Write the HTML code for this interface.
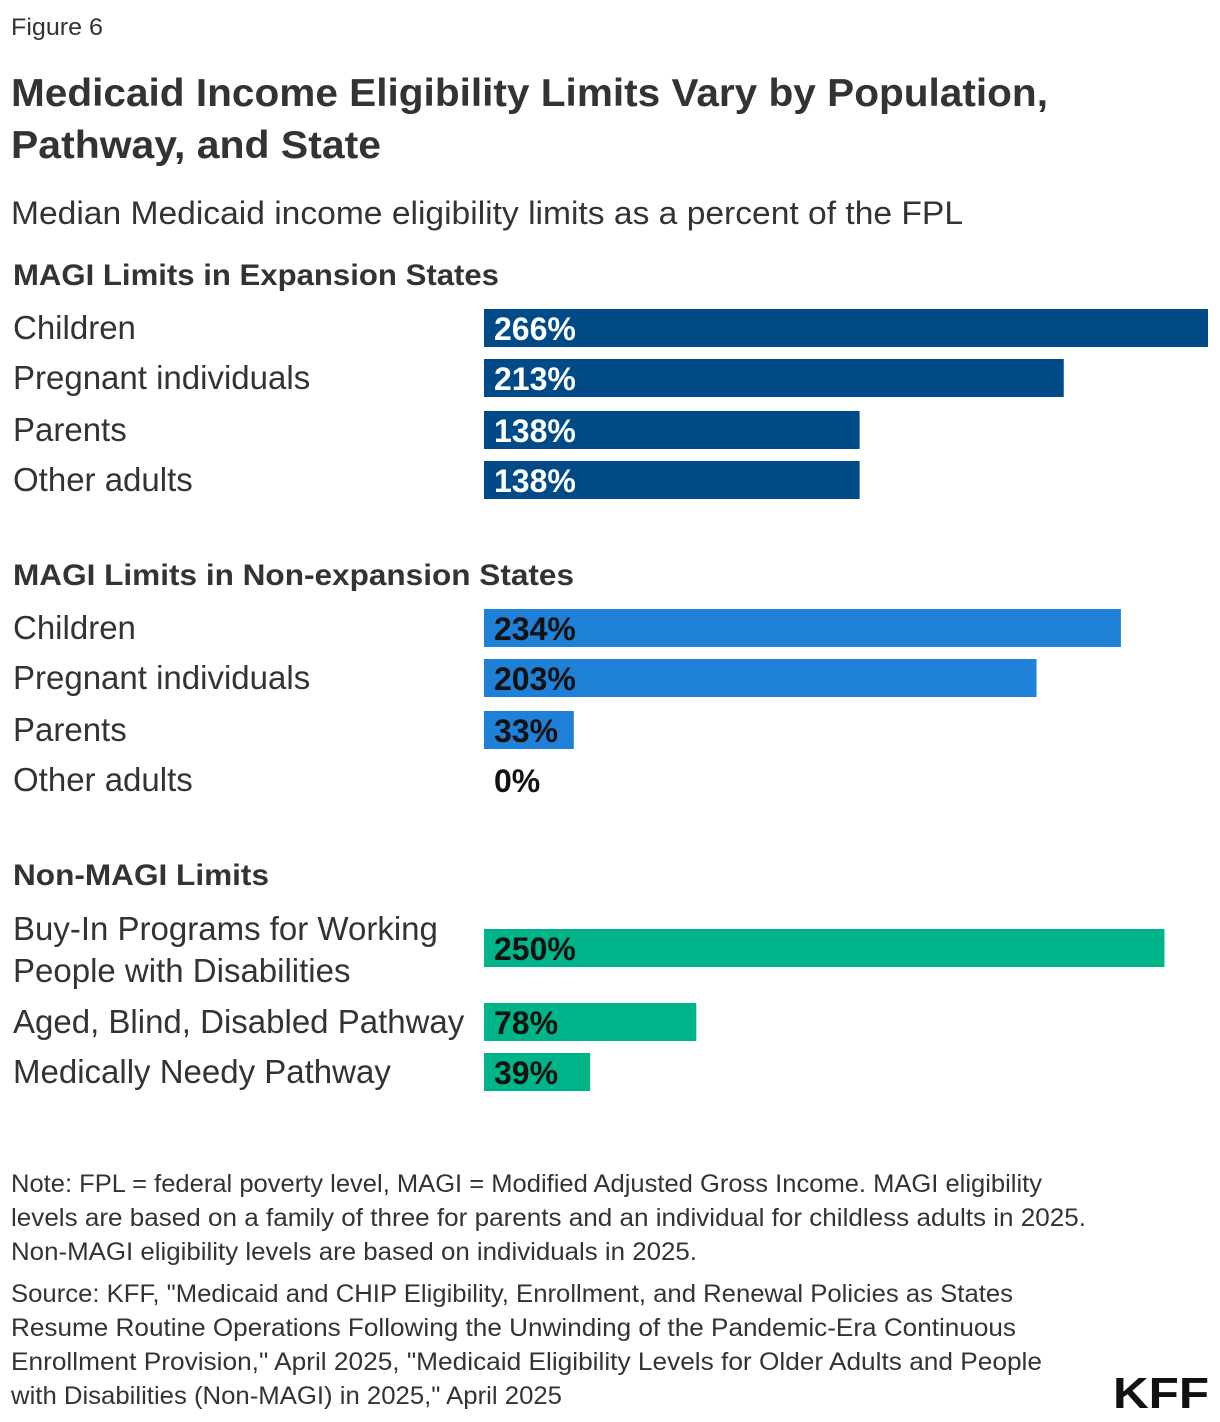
<!DOCTYPE html>
<html><head><meta charset="utf-8"><style>
html,body{margin:0;padding:0;background:#fff}
svg{display:block;font-family:"Liberation Sans",sans-serif}
</style></head><body>
<svg id="chart" width="1220" height="1422" viewBox="0 0 1220 1422">
<text x="11" y="35" font-size="24" fill="#333" textLength="92" lengthAdjust="spacingAndGlyphs">Figure 6</text>
<text x="11" y="106" font-size="39" font-weight="bold" fill="#333" textLength="1037" lengthAdjust="spacingAndGlyphs">Medicaid Income Eligibility Limits Vary by Population,</text>
<text x="11" y="158" font-size="39" font-weight="bold" fill="#333" textLength="370" lengthAdjust="spacingAndGlyphs">Pathway, and State</text>
<text x="11" y="224" font-size="32" fill="#333" textLength="952" lengthAdjust="spacingAndGlyphs">Median Medicaid income eligibility limits as a percent of the FPL</text>
<g id="bars"></g>
<g font-size="25" fill="#333">
<text x="11" y="1192" textLength="1031" lengthAdjust="spacingAndGlyphs">Note: FPL = federal poverty level, MAGI = Modified Adjusted Gross Income. MAGI eligibility</text>
<text x="11" y="1226" textLength="1075" lengthAdjust="spacingAndGlyphs">levels are based on a family of three for parents and an individual for childless adults in 2025.</text>
<text x="11" y="1260" textLength="686" lengthAdjust="spacingAndGlyphs">Non-MAGI eligibility levels are based on individuals in 2025.</text>
<text x="11" y="1302" textLength="1002" lengthAdjust="spacingAndGlyphs">Source: KFF, "Medicaid and CHIP Eligibility, Enrollment, and Renewal Policies as States</text>
<text x="11" y="1336" textLength="1005" lengthAdjust="spacingAndGlyphs">Resume Routine Operations Following the Unwinding of the Pandemic-Era Continuous</text>
<text x="11" y="1370" textLength="1031" lengthAdjust="spacingAndGlyphs">Enrollment Provision," April 2025, "Medicaid Eligibility Levels for Older Adults and People</text>
<text x="11" y="1404" textLength="551" lengthAdjust="spacingAndGlyphs">with Disabilities (Non-MAGI) in 2025," April 2025</text>
</g>
<text x="1113" y="1408" font-size="44" font-weight="bold" fill="#111" textLength="96" lengthAdjust="spacingAndGlyphs">KFF</text>
</svg>
<script>
const groupTitles = ["MAGI Limits in Expansion States","MAGI Limits in Non-expansion States","Non-MAGI Limits"];
const expLabels = ["Children","Pregnant individuals","Parents","Other adults"];
const expValues = [266,213,138,138];
const nonExpLabels = ["Children","Pregnant individuals","Parents","Other adults"];
const nonExpValues = [234,203,33,0];
const nonMagiLabels = [["Buy-In Programs for Working","People with Disabilities"],["Aged, Blind, Disabled Pathway"],["Medically Needy Pathway"]];
const nonMagiValues = [250,78,39];

const NS="http://www.w3.org/2000/svg";
const g=document.getElementById('bars');
const x0=484, pxPer=724/266;
const xScale=v=>v*pxPer;
function t(x,y,s,opts){const e=document.createElementNS(NS,'text');e.setAttribute('x',x);e.setAttribute('y',y);e.textContent=s;for(const k in opts)e.setAttribute(k,opts[k]);g.appendChild(e);return e;}
const titleW=[486,561,256];
const groups=[
 {title:groupTitles[0],ty:285,labels:expLabels,vals:expValues,ys:[309,359,411,461],color:"#004a87",tc:"#fff"},
 {title:groupTitles[1],ty:585,labels:nonExpLabels,vals:nonExpValues,ys:[609,659,711,761],color:"#1f80d8",tc:"#111"},
 {title:groupTitles[2],ty:885,labels:nonMagiLabels,vals:nonMagiValues,ys:[929,1003,1053],color:"#00b48a",tc:"#111"}
];
groups.forEach((gr,gi)=>{
 const tt=t(13,gr.ty,gr.title,{'font-size':30,'font-weight':'bold',fill:'#333',textLength:titleW[gi],lengthAdjust:'spacingAndGlyphs'});
 
 
 gr.vals.forEach((v,i)=>{
  const y=gr.ys[i];
  const lab=gr.labels[i];
  const lines=Array.isArray(lab)?lab:[lab];
  lines.forEach((ln,li)=>{
   const ly=lines.length>1? y+11+li*42 : y+30;
   const e=t(13,ly,ln,{'font-size':33,fill:'#333'});
   
   
  });
  const w=xScale(v);
  if(w>0){
   const r=document.createElementNS(NS,'rect');
   r.setAttribute('x',x0);r.setAttribute('y',y);r.setAttribute('width',w);r.setAttribute('height',38);r.setAttribute('fill',gr.color);
   
   
   g.appendChild(r);
  }
  const vl=t(494,y+31,v+'%',{'font-size':32,'font-weight':'bold',fill:w>0?gr.tc:'#111'});
  
  
 });
});
</script>
</body></html>
